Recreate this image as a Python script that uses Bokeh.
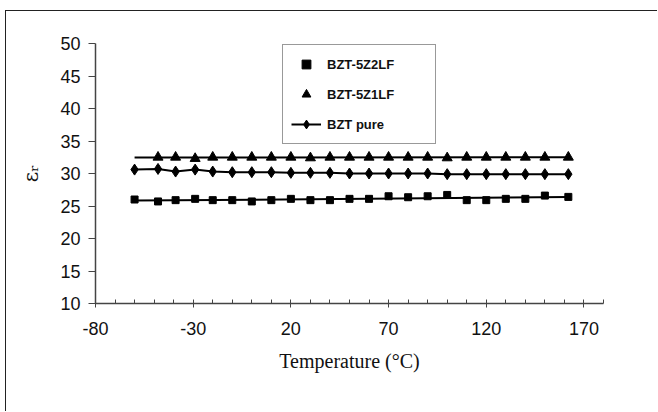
import numpy as np
from bokeh.plotting import figure
from bokeh.models import FixedTicker, Legend, LegendItem, Range1d
from bokeh.embed import file_html
from bokeh.resources import INLINE

# ---- data ----
temps = [-60, -48, -39, -29, -20, -10, 0, 10, 20, 30, 40, 50, 60, 70, 80, 90,
         100, 110, 120, 130, 140, 150, 162]
bzt_5z2lf = [26.0, 25.7, 25.9, 26.1, 25.9, 25.9, 25.7, 25.9, 26.1, 25.9, 25.9, 26.1,
             26.1, 26.5, 26.35, 26.5, 26.7, 25.9, 25.9, 26.1, 26.1, 26.6, 26.4]
temps_5z1lf = [-48, -39, -29, -20, -10, 0, 10, 20, 30, 40, 50, 60, 70, 80, 90,
               100, 110, 120, 130, 140, 150, 162]
bzt_5z1lf = [32.5, 32.5, 32.3, 32.5, 32.5, 32.5, 32.5, 32.5, 32.4, 32.5, 32.5, 32.5,
             32.5, 32.5, 32.5, 32.4, 32.5, 32.5, 32.5, 32.5, 32.5, 32.5]
bzt_pure = [30.6, 30.7, 30.3, 30.6, 30.3, 30.2, 30.2, 30.2, 30.1, 30.1, 30.1, 30.0,
            30.0, 30.0, 30.0, 30.0, 29.9, 29.9, 29.9, 29.9, 29.9, 29.9, 29.9]

x_ticks = [-80, -30, 20, 70, 120, 170]
x_tick_labels = ["-80", "-30", "20", "70", "120", "170"]
x_minor = [-70, -60, -50, -40, -20, -10, 0, 10, 30, 40, 50, 60, 80, 90, 100, 110,
           130, 140, 150, 160, 180]
y_ticks = [10, 15, 20, 25, 30, 35, 40, 45, 50]
series_names = ["BZT-5Z2LF", "BZT-5Z1LF", "BZT pure"]

p = figure(width=652, height=401, output_backend="svg", toolbar_location=None,
           x_range=Range1d(-80, 180), y_range=Range1d(10, 50),
           min_border_left=89, min_border_right=55, min_border_top=32,
           min_border_bottom=109)
p.styles = {"margin-left": "5px", "margin-top": "10px",
            "border-top": "1px solid #222222", "border-left": "1px solid #222222"}
p.outline_line_color = None
p.xgrid.grid_line_color = None
p.ygrid.grid_line_color = None
p.background_fill_color = "white"
p.border_fill_color = "white"

axis_col = "#444444"
# x axis
xa = p.xaxis[0]
xa.ticker = FixedTicker(ticks=x_ticks, minor_ticks=x_minor)
xa.major_label_overrides = {t: s for t, s in zip(x_ticks, x_tick_labels)}
xa.axis_line_color = axis_col
xa.axis_line_width = 1.5
xa.major_tick_line_color = axis_col
xa.minor_tick_line_color = axis_col
xa.major_tick_in = 4
xa.major_tick_out = 4
xa.minor_tick_in = 4
xa.minor_tick_out = 0
xa.major_label_text_font = "Liberation Sans"
xa.major_label_text_font_size = "18px"
xa.major_label_text_color = "#111111"
xa.major_label_standoff = 14
xa.axis_label = "Temperature (°C)"
xa.axis_label_text_font = "Liberation Serif"
xa.axis_label_text_font_size = "20px"
xa.axis_label_text_font_style = "normal"
xa.axis_label_text_color = "#111111"
xa.axis_label_standoff = 12

# y axis
ya = p.yaxis[0]
ya.ticker = FixedTicker(ticks=y_ticks, minor_ticks=[])
ya.axis_line_color = axis_col
ya.axis_line_width = 1.5
ya.major_tick_line_color = axis_col
ya.minor_tick_line_color = None
ya.major_tick_in = 0
ya.major_tick_out = 7
ya.major_label_text_font = "Liberation Sans"
ya.major_label_text_font_size = "18px"
ya.major_label_text_color = "#111111"
ya.major_label_standoff = 8
ya.axis_label = "εᵣ"
ya.axis_label_text_font = "DejaVu Serif"
ya.axis_label_text_font_size = "20px"
ya.axis_label_text_font_style = "normal"
ya.axis_label_text_color = "#111111"
ya.axis_label_standoff = 14

# trend lines (linear fits of the two marker-only series)
def trend(xs, ys):
    k, b = np.polyfit(xs, ys, 1)
    xx = [temps[0], temps[-1]]
    return xx, [k * v + b for v in xx]

tx1, ty1 = trend(temps, bzt_5z2lf)
tx2, ty2 = trend(temps_5z1lf, bzt_5z1lf)
p.line(tx1, ty1, line_color="black", line_width=2)
p.line(tx2, ty2, line_color="black", line_width=2)

r1 = p.scatter(temps, bzt_5z2lf, marker="square", size=7, color="black")
r2 = p.scatter(temps_5z1lf, bzt_5z1lf, marker="triangle", size=10, color="black")
r3l = p.line(temps, bzt_pure, line_color="black", line_width=2)
r3 = p.scatter(temps, bzt_pure, marker="diamond", size=11, color="black")

legend = Legend(items=[LegendItem(label=series_names[0], renderers=[r1]),
                       LegendItem(label=series_names[1], renderers=[r2]),
                       LegendItem(label=series_names[2], renderers=[r3l, r3])],
                location=(187, 159), orientation="vertical",
                padding=8, spacing=8, margin=0,
                glyph_width=30, glyph_height=22, label_height=22,
                label_standoff=6, label_width=100,
                label_text_font="Liberation Sans", label_text_font_size="13px",
                label_text_font_style="bold", label_text_color="#111111",
                border_line_color="#333333", border_line_width=1,
                background_fill_color="white", background_fill_alpha=1)
p.add_layout(legend, "center")

open("out.html", "w").write(file_html(p, INLINE))
